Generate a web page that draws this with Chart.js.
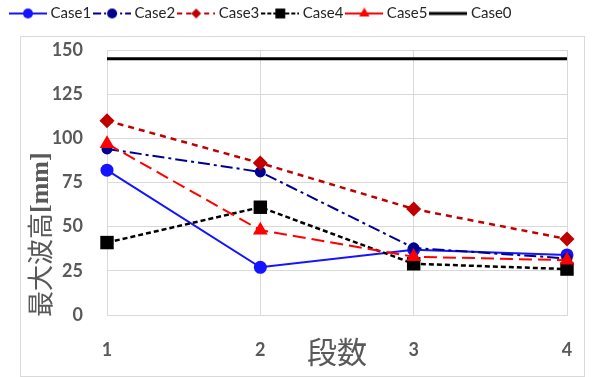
<!DOCTYPE html>
<html>
<head>
<meta charset="utf-8">
<script src="https://cdn.jsdelivr.net/npm/chart.js@4.4.1/dist/chart.umd.min.js"></script>
<style>
html, body { margin: 0; padding: 0; background: #fff; }
</style>
</head>
<body>
<canvas id="chart" width="601" height="377"></canvas>
<script>
//number of stages on the x axis
var stages = [1, 2, 3, 4];
var stagelabels = ['1', '2', '3', '4'];
//max wave height per case [mm]
var case1 = [82, 27, 37, 34];
var case2 = [94, 81, 38, 32];
var case3 = [110, 86, 60, 43];
var case4 = [41, 61, 29, 26];
var case5 = [97, 48, 33, 31];
var case0 = [145, 145, 145, 145];
var casenames = ['Case1', 'Case2', 'Case3', 'Case4', 'Case5', 'Case0'];
var yticks = [0, 25, 50, 75, 100, 125, 150];
var xtitle = '段数';
var ytitle = ['最大波高', '[mm]'];

var gridcolor = '#d9d9d9';
var textcolor = '#595959';

function points(values){
  return values.map(function(v, i){ return {x: stages[i], y: v}; });
}

//marker shapes for the legend icons
function drawmarker(ctx, style, x, y, r, color){
  ctx.setLineDash([]);
  ctx.fillStyle = color;
  ctx.beginPath();
  if(style == 'circle'){
    ctx.arc(x, y, r, 0, Math.PI * 2);
  }
  else if(style == 'rectRot'){
    ctx.moveTo(x, y - r); ctx.lineTo(x + r, y); ctx.lineTo(x, y + r); ctx.lineTo(x - r, y);
  }
  else if(style == 'rect'){
    var s = r * Math.SQRT1_2;
    ctx.rect(x - s, y - s, s * 2, s * 2);
  }
  else if(style == 'triangle'){
    ctx.moveTo(x, y - r);
    ctx.lineTo(x + r * 0.866, y + r * 0.5);
    ctx.lineTo(x - r * 0.866, y + r * 0.5);
  }
  ctx.closePath();
  ctx.fill();
}

function legendicon(color, dash, width, style, r){
  var c = document.createElement('canvas');
  c.width = 38; c.height = 16;
  var ctx = c.getContext('2d');
  ctx.strokeStyle = color;
  ctx.lineWidth = width;
  ctx.setLineDash(dash);
  ctx.beginPath();
  ctx.moveTo(0, 8);
  ctx.lineTo(38, 8);
  ctx.stroke();
  if(style) drawmarker(ctx, style, 19, 8, r, color);
  return c;
}

var icons = [
  legendicon('#1414ff', [], 2, 'circle', 5),
  legendicon('#000090', [8, 3, 2, 3], 2, 'circle', 5),
  legendicon('#c00000', [5, 4], 2, 'rectRot', 5),
  legendicon('#000000', [4, 2], 2, 'rect', 7),
  legendicon('#ff0000', [], 2, 'triangle', 6),
  legendicon('#000000', [], 3, null, 0)
];

function dataset(i, values, color, dash, width, style, radius, order){
  return {
    label: casenames[i],
    data: points(values),
    borderColor: color,
    backgroundColor: color,
    borderWidth: width,
    borderDash: dash,
    pointStyle: style,
    pointRadius: radius,
    pointBorderWidth: 0,
    pointBackgroundColor: color,
    pointHoverRadius: radius,
    tension: 0,
    clip: false,
    order: order
  };
}

//fixed legend height so the plot area starts lower
var legendbox = {
  id: 'legendbox',
  beforeUpdate: function(chart){
    var legend = chart.legend;
    if(legend && !legend._fixed){
      var fit = legend.fit;
      legend.fit = function(){ fit.call(this); this.height = 50; };
      legend._fixed = true;
    }
  }
};

//outer frame and axis titles
var decorations = {
  id: 'decorations',
  beforeDraw: function(chart){
    var ctx = chart.ctx;
    ctx.save();
    ctx.strokeStyle = gridcolor;
    ctx.lineWidth = 1;
    ctx.strokeRect(20.5, 36.5, 564, 340);
    ctx.restore();
  },
  afterDraw: function(chart){
    var ctx = chart.ctx, area = chart.chartArea;
    ctx.save();
    ctx.fillStyle = textcolor;
    ctx.font = '30px "Noto Sans CJK JP"';
    ctx.textAlign = 'center';
    ctx.textBaseline = 'middle';
    ctx.fillText(xtitle, (area.left + area.right) / 2, 352);

    ctx.translate(40, area.bottom + 2);
    ctx.rotate(-Math.PI / 2);
    ctx.textAlign = 'left';
    ctx.font = '26px "Noto Sans CJK JP"';
    ctx.fillText(ytitle[0], 0, 0);
    var w = ctx.measureText(ytitle[0]).width;
    ctx.font = 'bold 26px "Liberation Serif"';
    ctx.fillText(ytitle[1], w, 1);
    ctx.restore();
  }
};

var chart = new Chart(document.getElementById('chart'), {
  type: 'line',
  data: {
    datasets: [
      dataset(0, case1, '#1414ff', [], 2, 'circle', 6.5, 6),
      dataset(1, case2, '#000090', [12, 4, 3, 4], 2, 'circle', 5.5, 5),
      dataset(2, case3, '#c00000', [6, 5], 2.5, 'rectRot', 7.5, 4),
      dataset(3, case4, '#000000', [5, 3], 2.5, 'rect', 9.5, 3),
      dataset(4, case5, '#ff0000', [13, 6], 2, 'triangle', 8.5, 2),
      dataset(5, case0, '#000000', [], 3, 'circle', 0, 1)
    ]
  },
  options: {
    responsive: false,
    animation: false,
    layout: { padding: { left: 7, right: 34, top: 0, bottom: 0 } },
    scales: {
      x: {
        type: 'linear',
        min: 1,
        max: 4,
        afterFit: function(scale){ scale.height = 62; },
        afterBuildTicks: function(scale){
          scale.ticks = stages.map(function(v){ return {value: v}; });
        },
        grid: { color: gridcolor, drawTicks: false },
        border: { color: gridcolor },
        ticks: {
          padding: 24,
          color: textcolor,
          font: { family: 'Lato', weight: 'bold', size: 18 },
          callback: function(v){ return stagelabels[stages.indexOf(v)]; }
        }
      },
      y: {
        min: 0,
        max: 150,
        afterFit: function(scale){ scale.width = 100; },
        afterBuildTicks: function(scale){
          scale.ticks = yticks.map(function(v){ return {value: v}; });
        },
        grid: { color: gridcolor, drawTicks: false },
        border: { color: gridcolor },
        ticks: {
          padding: 24,
          color: textcolor,
          font: { family: 'Lato', weight: 'bold', size: 18 }
        }
      }
    },
    plugins: {
      tooltip: { enabled: false },
      legend: {
        position: 'top',
        align: 'start',
        labels: {
          usePointStyle: true,
          pointStyleWidth: 30,
          padding: 6,
          color: '#262626',
          font: { family: 'Lato', size: 15 },
          generateLabels: function(chart){
            var items = Chart.defaults.plugins.legend.labels.generateLabels(chart);
            items.sort(function(a, b){ return a.datasetIndex - b.datasetIndex; });
            items.forEach(function(item){ item.pointStyle = icons[item.datasetIndex]; });
            return items;
          }
        }
      }
    }
  },
  plugins: [legendbox, decorations]
});
</script>
</body>
</html>
